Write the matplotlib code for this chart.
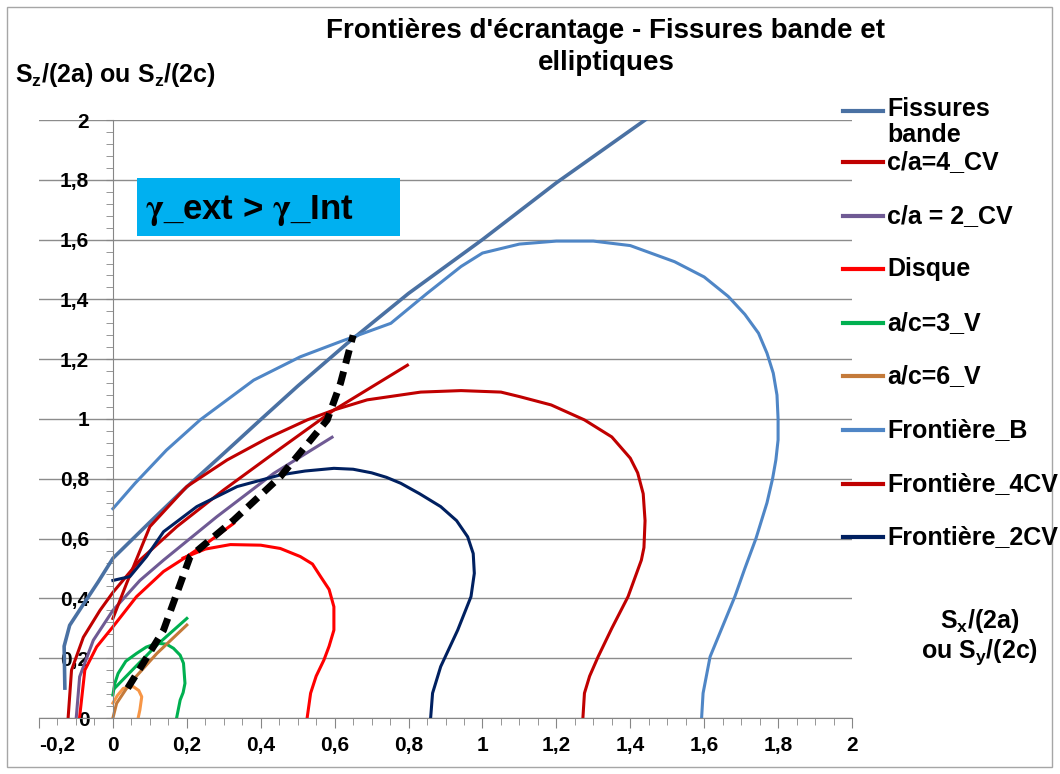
import matplotlib
matplotlib.use('Agg')
import matplotlib.pyplot as plt
from matplotlib.lines import Line2D
from matplotlib.patches import Rectangle
from matplotlib.ticker import MultipleLocator, FuncFormatter

plt.rcParams['font.family'] = ['Liberation Sans', 'DejaVu Sans']
plt.rcParams['font.weight'] = 'bold'
plt.rcParams['mathtext.fontset'] = 'custom'
plt.rcParams['mathtext.rm'] = 'Liberation Sans:bold'
plt.rcParams['mathtext.it'] = 'Liberation Sans:bold'
plt.rcParams['mathtext.bf'] = 'Liberation Sans:bold'
plt.rcParams['mathtext.sf'] = 'STIXGeneral:bold'

# --- data ---
fiss_x = [-0.13, -0.132, -0.117, -0.08, -0.04, 0, 0.1, 0.191, 0.3, 0.399, 0.5, 0.634, 0.8, 1.0, 1.2, 1.44]
fiss_y = [0.10, 0.24, 0.31, 0.38, 0.455, 0.534, 0.655, 0.763, 0.885, 0.997, 1.11, 1.253, 1.42, 1.60, 1.79, 2.00]

ca4_x = [-0.121, -0.112, -0.08, -0.035, 0, 0.073, 0.173, 0.30, 0.435, 0.598, 0.797]
ca4_y = [0.004, 0.16, 0.27, 0.36, 0.42, 0.528, 0.64, 0.763, 0.885, 1.03, 1.18]

ca2_x = [-0.099, -0.09, -0.053, 0, 0.073, 0.137, 0.281, 0.435, 0.593]
ca2_y = [0.004, 0.138, 0.26, 0.36, 0.46, 0.528, 0.673, 0.818, 0.939]

disque_x = [-0.09, -0.076, -0.044, 0, 0.064, 0.137, 0.2, 0.26, 0.327]
disque_y = [0.004, 0.16, 0.238, 0.305, 0.406, 0.49, 0.54, 0.59, 0.651]
disque_loop_x = [0.19, 0.25, 0.318, 0.40, 0.453, 0.507, 0.54, 0.562, 0.585, 0.598, 0.598, 0.585,
                 0.571, 0.55, 0.535, 0.526]
disque_loop_y = [0.535, 0.565, 0.58, 0.578, 0.567, 0.54, 0.515, 0.473, 0.43, 0.372, 0.294, 0.24,
                 0.194, 0.14, 0.083, 0.004]

ac3_x = [0.005, 0.06, 0.119, 0.2]
ac3_y = [0.10, 0.17, 0.244, 0.333]
ac3_loop_x = [0, 0.005, 0.014, 0.035, 0.064, 0.09, 0.119, 0.145, 0.164, 0.182, 0.191, 0.195, 0.19,
              0.182, 0.173]
ac3_loop_y = [0.077, 0.115, 0.149, 0.19, 0.216, 0.237, 0.25, 0.247, 0.233, 0.21, 0.183, 0.116,
              0.085, 0.06, 0.004]

ac6_x = [0, 0.01, 0.046, 0.119, 0.2]
ac6_y = [0, 0.049, 0.116, 0.216, 0.311]
ac6_loop_x = [0, 0.012, 0.028, 0.055, 0.07, 0.078, 0.073, 0.069]
ac6_loop_y = [0.05, 0.075, 0.099, 0.105, 0.092, 0.071, 0.027, 0.004]

frontB_x = [0, 0.06, 0.145, 0.236, 0.381, 0.507, 0.616, 0.752, 0.85, 0.942, 1.0, 1.1, 1.2, 1.3,
            1.4, 1.52, 1.6, 1.665, 1.71, 1.747, 1.77, 1.787, 1.797, 1.80, 1.80, 1.794, 1.785, 1.77,
            1.74, 1.71, 1.683, 1.616, 1.597, 1.593]
frontB_y = [0.70, 0.785, 0.896, 0.997, 1.13, 1.208, 1.259, 1.32, 1.42, 1.51, 1.555, 1.585, 1.595,
            1.595, 1.58, 1.526, 1.475, 1.41, 1.35, 1.287, 1.22, 1.153, 1.08, 1.0, 0.93, 0.863, 0.80,
            0.72, 0.60, 0.50, 0.406, 0.205, 0.083, 0.0]

front4_x = [0, 0.037, 0.1, 0.2, 0.309, 0.417, 0.526, 0.598, 0.688, 0.833, 0.942, 1.05, 1.10, 1.186,
            1.276, 1.35, 1.40, 1.42, 1.435, 1.44, 1.437, 1.43, 1.394, 1.35, 1.313, 1.29, 1.276, 1.272]
front4_y = [0.333, 0.45, 0.64, 0.774, 0.863, 0.935, 0.997, 1.03, 1.064, 1.09, 1.095, 1.09, 1.075,
            1.047, 0.997, 0.94, 0.869, 0.82, 0.75, 0.66, 0.57, 0.528, 0.406, 0.30, 0.205, 0.14,
            0.083, 0.004]

front2_x = [0, 0.046, 0.091, 0.137, 0.227, 0.336, 0.453, 0.52, 0.598, 0.65, 0.70, 0.74, 0.779,
            0.83, 0.887, 0.93, 0.96, 0.975, 0.978, 0.969, 0.933, 0.887, 0.865, 0.86]
front2_y = [0.46, 0.473, 0.54, 0.623, 0.707, 0.774, 0.813, 0.826, 0.835, 0.832, 0.82, 0.805, 0.785,
            0.75, 0.707, 0.66, 0.606, 0.55, 0.484, 0.406, 0.294, 0.172, 0.083, 0.004]

trans_x = [0.04, 0.082, 0.137, 0.173, 0.209, 0.327, 0.453, 0.58, 0.616, 0.65]
trans_y = [0.10, 0.183, 0.294, 0.417, 0.54, 0.662, 0.807, 0.997, 1.12, 1.28]

W, H = 1060, 774
fig = plt.figure(figsize=(W / 100, H / 100), dpi=100)


def fx(px):
    return px / W


def fy(py):
    return 1 - py / H


ax = fig.add_axes([fx(39), fy(718), fx(852) - fx(39), fy(120) - fy(718)])

series = [
    ('Fissures\nbande', fiss_x, fiss_y, '#4A71A3', 2.6),
    ('c/a=4_CV', ca4_x, ca4_y, '#C00000', 2.2),
    ('c/a = 2_CV', ca2_x, ca2_y, '#6F5A94', 2.2),
    ('Disque', disque_x, disque_y, '#FF0000', 2.2),
    ('a/c=3_V', ac3_x, ac3_y, '#00B050', 2.2),
    ('a/c=6_V', ac6_x, ac6_y, '#C47A3A', 2.2),
    ('Frontière_B', frontB_x, frontB_y, '#4F86C6', 2.2),
    ('Frontière_4CV', front4_x, front4_y, '#C00000', 2.2),
    ('Frontière_2CV', front2_x, front2_y, '#002060', 2.2),
]

ax.plot(disque_loop_x, disque_loop_y, color='#FF0000', lw=2.2)
ax.plot(ac3_loop_x, ac3_loop_y, color='#00B050', lw=2.2)
ax.plot(ac6_loop_x, ac6_loop_y, color='#F79646', lw=2.2)
for name, xs, ys, col, lw in series:
    ax.plot(xs, ys, color=col, lw=lw, solid_joinstyle='round')
ax.plot(trans_x, trans_y, color='black', lw=5, dashes=(2.0, 1.2))

ax.set_xlim(-0.2, 2)
ax.set_ylim(0, 2)
ax.spines['top'].set_visible(False)
ax.spines['right'].set_visible(False)
ax.spines['left'].set_position(('data', 0))
for s in ('left', 'bottom'):
    ax.spines[s].set_color('#868686')
ax.set_axisbelow(True)
ax.yaxis.grid(True, color='#8C8C8C', lw=1)

xticks = [-0.2, 0, 0.2, 0.4, 0.6, 0.8, 1, 1.2, 1.4, 1.6, 1.8, 2]
fmt = FuncFormatter(lambda v, p: ('%g' % round(v, 2)).replace('.', ','))
ax.set_xticks(xticks, [fmt(v) for v in xticks])
ax.xaxis.set_minor_locator(MultipleLocator(0.05))
ax.yaxis.set_major_locator(MultipleLocator(0.2))
ax.yaxis.set_minor_locator(MultipleLocator(0.04))
ax.yaxis.set_major_formatter(fmt)
ax.tick_params(axis='both', which='both', colors='#868686', labelcolor='black', labelsize=15)
ax.tick_params(axis='x', which='major', length=7, pad=6)
ax.tick_params(axis='x', which='minor', length=5)
ax.tick_params(axis='y', which='major', length=5, pad=12)
ax.tick_params(axis='y', which='minor', length=5)
# Excel pushes the first x label inside the chart area
ax.xaxis.get_major_ticks()[0].label1.set_horizontalalignment('left')

# titles and axis labels
fig.text(fx(606), fy(47), "Frontières d'écrantage - Fissures bande et\nelliptiques",
         ha='center', va='center', fontsize=20, fontweight='bold', linespacing=1.25)
fig.text(fx(15), fy(75), r'S$_z$/(2a) ou S$_z$/(2c)', ha='left', va='center',
         fontsize=18, fontweight='bold')
fig.text(fx(980), fy(637), 'S$_x$/(2a)\nou S$_y$/(2c)', ha='center', va='center',
         fontsize=18, fontweight='bold', linespacing=1.15)

# annotation box
fig.add_artist(Rectangle((fx(137), fy(236)), fx(400) - fx(137), fy(178) - fy(236),
                         transform=fig.transFigure, facecolor='#00B0F0', edgecolor='none'))
fig.text(fx(145), fy(210), r'$\mathsf{\gamma}$_ext > $\mathsf{\gamma}$_Int', ha='left',
         va='center', fontsize=25, fontweight='bold')

# legend drawn to match the Excel layout
leg_y = [111] + [162 + 53.6 * i for i in range(8)]
for (name, xs, ys, col, lw), py in zip(series, leg_y):
    fig.add_artist(Line2D([fx(843), fx(883)], [fy(py), fy(py)], transform=fig.transFigure,
                          color=col, lw=3))
    if '\n' in name:
        fig.text(fx(887), fy(py - 14), name, ha='left', va='top', fontsize=18,
                 fontweight='bold', linespacing=1.1)
    else:
        fig.text(fx(887), fy(py), name, ha='left', va='center', fontsize=18,
                 fontweight='bold')

# chart border
fig.add_artist(Rectangle((fx(7), fy(767)), fx(1052) - fx(7), fy(7) - fy(767),
                         transform=fig.transFigure, facecolor='none', edgecolor='#A6A6A6', lw=1))

fig.savefig('out.png', dpi=100)
